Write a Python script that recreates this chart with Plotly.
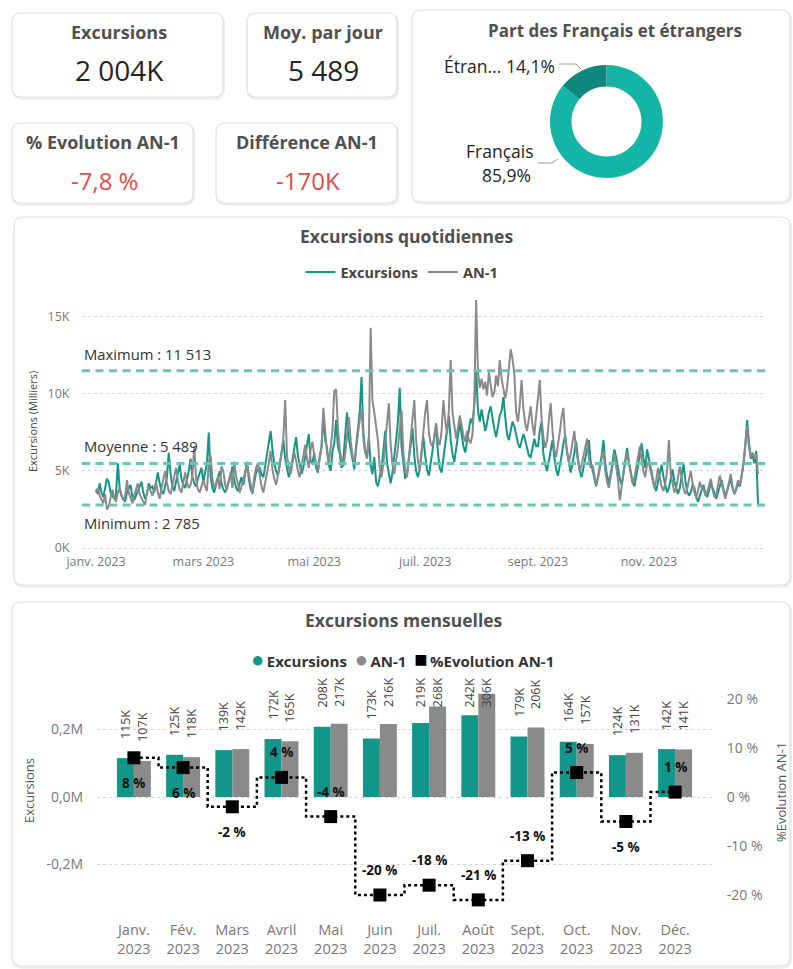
import pandas as pd
import plotly.graph_objects as go

W, H = 793, 969

# ---------------------------------------------------------------- data
# KPI cards
kpi_total_k = 2004          # excursions (K)
kpi_daily_mean = 5489       # average per day
kpi_evol_pct = -7.8         # % vs previous year
kpi_diff_k = -170           # difference vs previous year (K)

# French / foreign share (%)
origin_labels = ["Français", "Étrangers"]
origin_share = [85.9, 14.1]

# Daily excursions 2023 and previous year, in thousands (one row per week)
exc_daily_k = [
    # janv.
    3.8, 3.5, 4.2, 3.6, 3.3, 3.9, 4.5, 4.3, 3.6, 3.4, 3.2, 3.5, 5.5, 3.9,
    3.4, 3.2, 3.0, 3.6, 3.9, 4.1, 3.3, 3.1, 3.4, 3.7, 3.9, 4.3, 3.6, 3.2,
    3.5, 4.2, 3.9,
    # févr.
    4.0, 3.6, 4.4, 4.9, 4.2, 3.7, 3.5, 4.1, 4.6, 6.2, 4.8, 4.0, 3.7, 4.3,
    4.8, 5.4, 4.5, 4.1, 3.9, 4.4, 5.0, 5.8, 4.6, 4.2, 4.0, 4.5, 4.9, 5.2,
    # mars
    4.3, 4.8, 5.5, 7.5, 4.6, 3.9, 3.6, 4.1, 4.5, 5.0, 4.2, 3.8, 3.6, 4.0,
    4.3, 4.7, 5.3, 4.4, 3.9, 3.7, 4.2, 4.6, 4.1, 4.8, 5.6, 4.5, 3.8, 3.6,
    4.3, 4.9, 5.1,
    # avr.
    5.2, 4.8, 4.6, 5.3, 6.0, 6.8, 7.6, 6.4, 5.5, 5.0, 4.7, 5.4, 6.2, 7.0,
    5.8, 5.1, 4.6, 5.0, 5.7, 6.5, 7.2, 6.0, 5.3, 4.8, 5.2, 5.9, 6.6, 7.4,
    5.6, 5.5,
    # mai
    6.2, 5.2, 4.9, 6.0, 6.5, 8.6, 7.0, 6.5, 5.4, 5.0, 6.3, 6.8, 8.3, 6.6,
    6.1, 5.2, 5.8, 7.3, 8.8, 7.1, 6.4, 5.9, 5.1, 6.6, 7.8, 8.8, 11.1, 7.5,
    6.3, 6.0, 7.2,
    # juin
    5.4, 4.8, 5.9, 4.3, 4.0, 4.6, 5.2, 6.3, 7.6, 5.5, 4.7, 4.2, 4.9, 5.8,
    7.0, 8.2, 10.4, 6.6, 5.3, 4.5, 4.8, 5.6, 6.7, 7.8, 6.0, 5.0, 4.6, 5.1,
    6.2, 7.2,
    # juil.
    6.0, 5.1, 4.7, 5.4, 6.3, 7.2, 8.0, 6.2, 5.2, 4.9, 5.8, 6.6, 7.5, 8.6,
    7.0, 6.1, 5.6, 6.4, 7.3, 8.1, 7.4, 6.6, 6.2, 6.9, 7.7, 8.4, 8.1, 9.3,
    11.513, 8.9, 8.2,
    # août
    9.0, 8.3, 7.6, 8.1, 8.8, 9.2, 8.4, 7.7, 7.2, 7.9, 8.6, 8.9, 9.8, 8.5,
    7.4, 7.0, 7.6, 8.2, 7.9, 7.3, 6.8, 6.5, 6.9, 7.4, 7.0, 6.4, 6.0, 5.9,
    6.5, 7.1, 6.6,
    # sept.
    6.6, 7.6, 8.2, 6.1, 5.4, 5.0, 5.6, 6.3, 7.0, 5.9, 5.1, 4.7, 5.3, 6.0,
    6.8, 7.3, 6.2, 5.4, 4.9, 5.5, 6.2, 6.9, 5.8, 5.0, 4.6, 5.2, 5.9, 6.5,
    7.0, 5.6,
    # oct.
    5.0, 4.4, 4.0, 4.6, 5.3, 6.0, 7.0, 5.5, 4.7, 4.2, 4.8, 5.6, 6.4, 5.9,
    5.1, 4.5, 4.1, 4.9, 5.7, 6.5, 5.6, 4.9, 4.3, 4.0, 4.6, 5.3, 6.1, 6.8,
    5.8, 5.2, 6.4,
    # nov.
    5.8, 5.0, 4.4, 4.0, 3.7, 4.3, 4.9, 5.4, 4.6, 4.0, 3.6, 3.9, 4.5, 5.1,
    4.3, 3.8, 3.5, 3.9, 4.6, 5.5, 4.4, 3.7, 3.4, 3.6, 4.1, 3.9, 3.3, 3.0,
    3.4, 3.8,
    # déc.
    4.1, 3.6, 3.3, 3.7, 4.2, 3.9, 3.5, 3.2, 3.6, 4.0, 4.4, 3.8, 3.4, 3.7,
    4.1, 4.5, 3.9, 3.5, 3.8, 4.2, 4.0, 4.6, 5.4, 6.6, 8.3, 6.9, 5.8, 6.0,
    5.5, 6.3, 2.785,
]

an1_daily_k = [
    # janv.
    3.6, 3.9, 3.4, 3.1, 2.9, 3.5, 2.5, 2.7, 3.2, 3.8, 3.3, 3.0, 3.6, 3.9,
    3.4, 3.1, 3.3, 4.4, 3.6, 3.2, 2.9, 3.4, 3.8, 4.2, 3.5, 3.2, 3.0, 2.8,
    3.6, 4.0, 3.7,
    # févr.
    3.4, 3.8, 4.3, 3.6, 3.2, 3.9, 4.5, 5.0, 4.2, 3.7, 3.5, 4.1, 4.6, 5.2,
    4.4, 3.8, 3.6, 4.2, 4.9, 4.3, 3.9, 4.1, 4.7, 6.6, 4.5, 3.8, 3.6, 4.0,
    # mars
    4.4, 4.0, 3.7, 5.6, 6.0, 4.5, 3.9, 4.2, 4.6, 3.8, 5.3, 5.0, 4.1, 3.8,
    4.3, 4.9, 3.9, 5.6, 4.7, 4.2, 3.6, 4.0, 4.5, 5.1, 5.4, 4.8, 4.1, 3.5,
    4.6, 5.2, 5.5,
    # avr.
    4.6, 4.0, 3.6, 4.2, 4.9, 5.5, 6.3, 5.1, 4.5, 4.1, 4.7, 5.4, 6.1, 7.2,
    9.6, 6.0, 5.2, 4.8, 5.5, 6.2, 5.7, 5.0, 4.6, 5.3, 6.0, 6.7, 5.8, 5.2,
    6.4, 6.9,
    # mai
    6.0, 5.4, 5.0, 5.8, 6.6, 9.1, 7.3, 6.2, 5.5, 6.4, 7.6, 10.2, 10.3, 7.8,
    6.4, 5.7, 5.3, 6.1, 7.2, 8.5, 7.0, 6.0, 5.5, 6.3, 7.4, 8.3, 9.0, 7.1,
    6.2, 5.8, 6.9,
    # juin
    14.3, 9.6, 8.8, 7.9, 7.0, 5.2, 4.6, 5.5, 6.8, 8.4, 9.4, 6.7, 5.4, 4.8,
    5.6, 6.5, 7.7, 8.9, 6.2, 5.1, 4.6, 5.8, 6.9, 8.0, 9.6, 7.0, 5.7, 5.0,
    6.3, 7.6,
    # juil.
    8.8, 9.6, 7.5, 6.8, 6.6, 7.2, 8.1, 7.0, 6.7, 7.6, 9.6, 8.3, 7.4, 8.9,
    12.2, 8.8, 7.9, 7.1, 7.8, 8.6, 8.0, 7.3, 6.9, 7.6, 7.0, 6.8, 7.4, 9.5,
    16.1, 11.5, 10.4,
    # août
    11.0, 10.3, 10.8, 9.9, 11.4, 10.6, 9.8, 10.1, 11.2, 10.5, 12.2, 11.0,
    10.2, 9.7, 10.4, 11.9, 12.9, 12.3, 11.3, 8.8, 8.2, 9.3, 10.9, 9.0, 8.1,
    7.6, 8.5, 9.2, 8.0, 7.3, 8.6,
    # sept.
    9.6, 10.9, 8.4, 7.2, 6.5, 7.0, 8.3, 9.4, 7.6, 6.4, 5.9, 6.6, 7.5, 8.5,
    9.1, 7.0, 6.2, 5.6, 6.1, 6.9, 7.6, 6.3, 5.5, 5.0, 5.4, 6.0, 6.7, 7.1,
    5.8, 5.2,
    # oct.
    5.4, 4.6, 4.1, 4.5, 5.2, 5.8, 6.3, 5.0, 4.3, 3.9, 4.6, 5.5, 6.1, 5.3,
    4.4, 3.1, 4.0, 5.0, 5.6, 6.2, 5.5, 4.7, 4.2, 4.5, 5.2, 6.0, 6.6, 5.7,
    5.0, 4.6, 5.5,
    # nov.
    5.5, 4.9, 4.3, 3.9, 4.4, 5.2, 4.6, 4.0, 3.7, 4.2, 5.0, 7.0, 4.8, 4.1,
    3.6, 3.9, 4.5, 5.3, 4.6, 3.9, 3.5, 3.8, 4.4, 5.0, 4.2, 3.6, 3.3, 3.7,
    4.3, 3.9,
    # déc.
    3.9, 3.4, 3.6, 4.1, 4.5, 3.8, 3.3, 3.5, 4.0, 4.7, 4.2, 3.6, 3.2, 3.7,
    4.3, 4.8, 4.0, 3.5, 3.9, 4.4, 4.1, 4.7, 5.6, 6.8, 7.9, 6.6, 5.9, 6.2,
    5.8, 6.1, 4.8,
]

# Reference lines on the daily chart
ref_max = 11513
ref_mean = 5489
ref_min = 2785

date_tick_values = ["2023-01-01", "2023-03-01", "2023-05-01",
                    "2023-07-01", "2023-09-01", "2023-11-01"]
date_tick_labels = ["janv. 2023", "mars 2023", "mai 2023",
                    "juil. 2023", "sept. 2023", "nov. 2023"]

# Monthly totals (K) and evolution vs previous year (%)
month_labels = ["Janv.", "Fév.", "Mars", "Avril", "Mai", "Juin",
                "Juil.", "Août", "Sept.", "Oct.", "Nov.", "Déc."]
year_label = "2023"
exc_monthly_k = [115, 125, 139, 172, 208, 173, 219, 242, 179, 164, 124, 142]
an1_monthly_k = [107, 118, 142, 165, 217, 216, 268, 306, 206, 157, 131, 141]
evol_pct = [8, 6, -2, 4, -4, -20, -18, -21, -13, 5, -5, 1]

# ---------------------------------------------------------------- style
FONT = "Segoe UI, Open Sans, sans-serif"
TEAL = "#12968a"
GREY = "#8a8a8a"
PIE_TEAL = "#14b5a6"
PIE_DARK = "#0e877c"
REF_TEAL = "#6cc4b7"
TITLE_C = "#505050"
TICK_C = "#777777"
RED = "#e8484d"

# side of each %-label relative to its marker (+1 above, -1 below)
pct_label_side = [-1, -1, -1, 1, 1, 1, 1, 1, 1, 1, -1, 1]
bar_label_ceiling_k = 210   # bar labels never climb above this level


def px(x):
    return x / W


def py(y):
    return 1 - y / H


def fmt_int(v):
    return f"{int(round(v)):,}".replace(",", " ")


def fmt_dec(v, nd=1):
    return f"{v:.{nd}f}".replace(".", ",")


def rounded_rect(x0, y0, x1, y1, r=9):
    pts = [
        ("M", [(x0 + r, y0)]), ("L", [(x1 - r, y0)]), ("Q", [(x1, y0), (x1, y0 + r)]),
        ("L", [(x1, y1 - r)]), ("Q", [(x1, y1), (x1 - r, y1)]),
        ("L", [(x0 + r, y1)]), ("Q", [(x0, y1), (x0, y1 - r)]),
        ("L", [(x0, y0 + r)]), ("Q", [(x0, y0), (x0 + r, y0)]),
    ]
    parts = []
    for cmd, coords in pts:
        parts.append(cmd + " " + " ".join(f"{px(a):.5f},{py(b):.5f}" for a, b in coords))
    return " ".join(parts) + " Z"


fig = go.Figure()

# ---------------------------------------------------------------- daily lines
dates = pd.date_range("2023-01-01", periods=len(exc_daily_k), freq="D")
fig.add_trace(go.Scatter(
    x=dates, y=exc_daily_k, name="Excursions", mode="lines",
    line=dict(color=TEAL, width=2), xaxis="x", yaxis="y", legend="legend"))
fig.add_trace(go.Scatter(
    x=dates[:len(an1_daily_k)], y=an1_daily_k, name="AN-1", mode="lines",
    line=dict(color=GREY, width=2), xaxis="x", yaxis="y", legend="legend"))

# ---------------------------------------------------------------- monthly bars
cats = [f"{m}<br>{year_label}" for m in month_labels]
fig.add_trace(go.Bar(x=cats, y=exc_monthly_k, name="Excursions", marker_color=TEAL,
                     marker_line_width=0, xaxis="x2", yaxis="y2", showlegend=False))
fig.add_trace(go.Bar(x=cats, y=an1_monthly_k, name="AN-1", marker_color=GREY,
                     marker_line_width=0, xaxis="x2", yaxis="y2", showlegend=False))
fig.add_trace(go.Scatter(
    x=cats, y=evol_pct, name="%Evolution AN-1", mode="lines+markers",
    line=dict(shape="hvh", dash="dot", width=2.5, color="black"),
    marker=dict(symbol="square", size=13, color="black"),
    xaxis="x2", yaxis="y3", showlegend=False))

# ---------------------------------------------------------------- donut
fig.add_trace(go.Pie(
    labels=origin_labels, values=origin_share, hole=0.62, sort=False,
    direction="clockwise", rotation=0, textinfo="none",
    marker=dict(colors=[PIE_TEAL, PIE_DARK], line=dict(width=0)),
    domain=dict(x=[px(550), px(663)], y=[py(178), py(65)]),
    showlegend=False))

# ---------------------------------------------------------------- shapes
shapes = []
cards = [(12, 13, 223, 97), (247, 13, 397, 97), (12, 123, 193, 203),
         (216, 123, 397, 203), (412, 10, 790, 202), (14, 217, 790, 585),
         (12, 602, 790, 966)]
for (x0, y0, x1, y1) in cards:
    shapes.append(dict(type="path", path=rounded_rect(x0 + 1, y0 + 1.5, x1 + 1, y1 + 1.5),
                       xref="paper", yref="paper", layer="below",
                       line=dict(color="rgba(0,0,0,0.07)", width=2.5), fillcolor="rgba(0,0,0,0)"))
    shapes.append(dict(type="path", path=rounded_rect(x0, y0, x1, y1),
                       xref="paper", yref="paper", layer="below",
                       line=dict(color="#e0e0e0", width=1.2), fillcolor="white"))

for v in (ref_max, ref_mean, ref_min):
    shapes.append(dict(type="line", xref="x domain", x0=0, x1=1, yref="y",
                       y0=v / 1000, y1=v / 1000,
                       line=dict(color=REF_TEAL, width=3, dash="8px,5.5px")))

# donut leader lines
for path_pts in ([(559, 64), (576, 64), (581, 69)], [(538, 163), (552, 163), (558, 159)]):
    p = "M " + " L ".join(f"{px(a):.5f},{py(b):.5f}" for a, b in path_pts)
    shapes.append(dict(type="path", path=p, xref="paper", yref="paper",
                       line=dict(color="#9a9a9a", width=1)))

# ---------------------------------------------------------------- annotations
ann = []


def text(x, y, s, size, color="#252423", weight="normal", xanchor="center", **kw):
    ann.append(dict(x=px(x), y=py(y), xref="paper", yref="paper", text=s, showarrow=False,
                    xanchor=xanchor, yanchor="middle",
                    font=dict(family=FONT, size=size, color=color, weight=weight), **kw))


# KPI cards
text(119, 32, "Excursions", 18, TITLE_C, "bold")
text(119, 70, f"{fmt_int(kpi_total_k)}K", 28)
text(323, 32, "Moy. par jour", 18, TITLE_C, "bold")
text(323, 70, fmt_int(kpi_daily_mean), 28)
text(103, 142, "% Evolution AN-1", 18, TITLE_C, "bold")
text(104, 180, f"{fmt_dec(kpi_evol_pct)} %", 24, RED)
text(307, 142, "Différence AN-1", 18, TITLE_C, "bold")
text(308, 180, f"{fmt_int(kpi_diff_k)}K", 24, RED)

# donut card
text(615, 30, "Part des Français et étrangers", 17, TITLE_C, "bold")
share_total = sum(origin_share)
fr_pct = origin_share[0] / share_total * 100
etr_pct = origin_share[1] / share_total * 100
text(557, 66, f"{origin_labels[1][:5]}... {fmt_dec(etr_pct)}%", 17.5, "#252423", xanchor="right")
text(536, 151, origin_labels[0], 17.5, "#252423", xanchor="right")
text(533, 175, f"{fmt_dec(fr_pct)}%", 17.5, "#252423", xanchor="right")

# daily chart
text(406, 236, "Excursions quotidiennes", 17.5, TITLE_C, "bold")
text(32, 422, "Excursions (Milliers)", 11, "#444444", textangle=-90)
for v, lab, side in ((ref_max, "Maximum", 1), (ref_mean, "Moyenne", 1), (ref_min, "Minimum", -1)):
    ann.append(dict(x=px(82), xref="paper", y=v / 1000, yref="y",
                    text=f"{lab} : {fmt_int(v)}", showarrow=False, xanchor="left",
                    yanchor="bottom" if side > 0 else "top", yshift=5 if side > 0 else -6,
                    font=dict(family=FONT, size=14.8, color="#333333")))

# monthly chart
text(404, 620, "Excursions mensuelles", 17.5, TITLE_C, "bold")
gap = "\u00a0\u00a0"
text(402, 658,
     f"<span style='color:{TEAL};font-size:22px'>●</span>\u2009Excursions{gap}"
     f"<span style='color:{GREY};font-size:22px'>●</span>\u2009AN-1{gap}"
     "<span style='color:#000000;font-size:22px'>■</span>\u2009%Evolution AN-1",
     15, "#333333", "bold")
text(29, 790, "Excursions", 13, "#555555", textangle=-90)
text(781, 792, "%Evolution AN-1", 13, "#555555", textangle=-90)

half = 0.1725
for i, (e, a) in enumerate(zip(exc_monthly_k, an1_monthly_k)):
    for off, val in ((-half, e), (half, a)):
        ann.append(dict(x=i + off, xref="x2", y=min(val, bar_label_ceiling_k), yref="y2",
                        text=f"{val}K", showarrow=False, textangle=-90,
                        xanchor="center", yanchor="bottom", yshift=17,
                        font=dict(family=FONT, size=12.5, color="#444444")))

for i, (v, side) in enumerate(zip(evol_pct, pct_label_side)):
    ann.append(dict(x=i, xref="x2", y=v, yref="y3", text=f"{v} %", showarrow=False,
                    xanchor="center", yanchor="middle", yshift=25 * side,
                    font=dict(family=FONT, size=13.5, color="#111111", weight="bold")))

# ---------------------------------------------------------------- layout
m_top, m_bot, m_zero = 680, 912, 797
k_per_px = 200 / 67.5
pct_per_px = 10 / 49

fig.update_layout(
    width=W, height=H, margin=dict(l=0, r=0, t=0, b=0, autoexpand=False),
    paper_bgcolor="white", plot_bgcolor="rgba(0,0,0,0)",
    font=dict(family=FONT, color=TICK_C),
    separators=", ",
    barmode="group", bargap=0.31, bargroupgap=0,
    shapes=shapes, annotations=ann,
    legend=dict(orientation="h", x=px(402), xanchor="center", y=py(272), yanchor="middle",
                font=dict(family=FONT, size=14.5, color="#444444", weight="bold"),
                bgcolor="rgba(0,0,0,0)", itemwidth=30, tracegroupgap=0),
    xaxis=dict(domain=[px(82), px(765)], anchor="y", type="date", automargin=False,
               range=["2022-12-24 07:00", "2024-01-03 20:00"],
               tickvals=date_tick_values, ticktext=date_tick_labels,
               showgrid=False, zeroline=False, showline=False, ticks="",
               tickfont=dict(size=12.5, color=TICK_C)),
    yaxis=dict(domain=[py(552), py(290)], anchor="x", range=[-0.26, 16.75], automargin=False,
               tickvals=[0, 5, 10, 15], ticktext=["0K", "5K", "10K", "15K"],
               showgrid=True, gridcolor="#d4d4d4", griddash="dot", gridwidth=1,
               zeroline=False, showline=False, ticks="outside", ticklen=9,
               tickcolor="rgba(0,0,0,0)", tickfont=dict(size=12.5, color=TICK_C)),
    xaxis2=dict(domain=[px(97), px(712)], anchor="y2", type="category", automargin=False,
                range=[-0.75, 11.75], showgrid=False, zeroline=False, showline=False,
                ticks="outside", ticklen=5, tickcolor="rgba(0,0,0,0)",
                tickfont=dict(size=14.5, color=TICK_C)),
    yaxis2=dict(domain=[py(m_bot), py(m_top)], anchor="x2", automargin=False,
                range=[-(m_bot - m_zero) * k_per_px, (m_zero - m_top) * k_per_px],
                tickvals=[-200, 0, 200], ticktext=["-0,2M", "0,0M", "0,2M"],
                showgrid=True, gridcolor="#d4d4d4", griddash="dot", gridwidth=1,
                zeroline=False, showline=False, ticks="outside", ticklen=10,
                tickcolor="rgba(0,0,0,0)", tickfont=dict(size=14, color=TICK_C)),
    yaxis3=dict(overlaying="y2", side="right", anchor="x2", automargin=False,
                range=[-(m_bot - m_zero) * pct_per_px, (m_zero - m_top) * pct_per_px],
                tickvals=[-20, -10, 0, 10, 20],
                ticktext=["-20 %", "-10 %", "0 %", "10 %", "20 %"],
                showgrid=False, zeroline=False, showline=False, ticks="outside",
                ticklen=11, tickcolor="rgba(0,0,0,0)", tickfont=dict(size=14, color=TICK_C)),
)

fig.write_html("out.html")
